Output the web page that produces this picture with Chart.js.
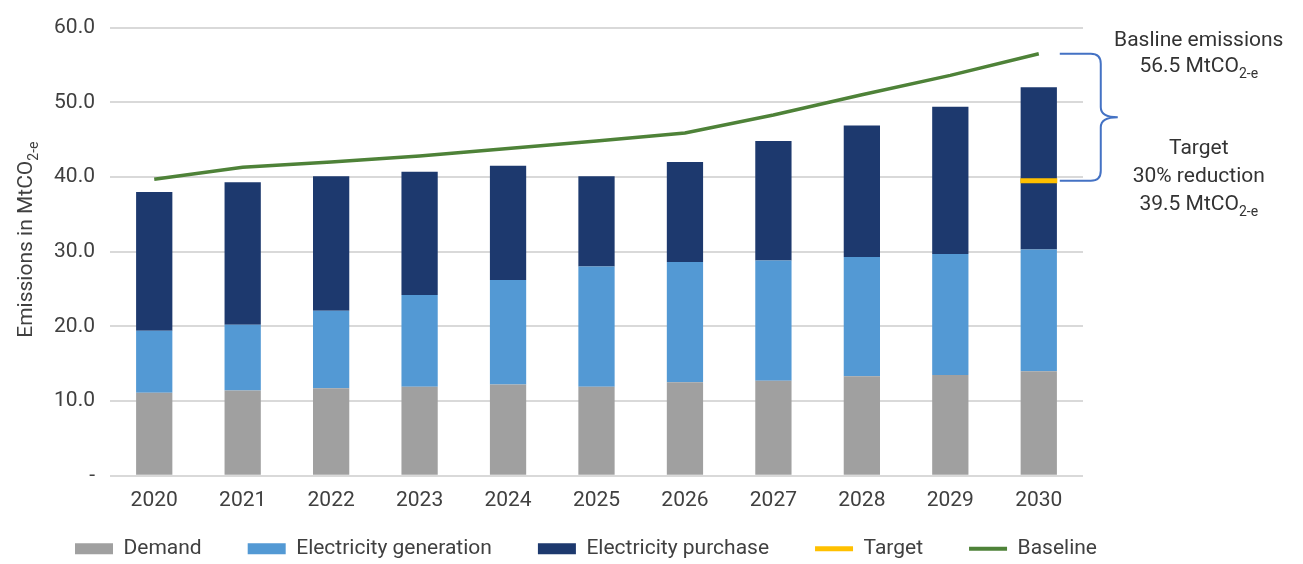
<!DOCTYPE html>
<html>
<head>
<meta charset="utf-8">
<title>Emissions</title>
<script src="https://cdn.jsdelivr.net/npm/chart.js@4.4.1/dist/chart.umd.min.js"></script>
<style>
  html, body { margin: 0; padding: 0; background: #fff; }
  #wrap { width: 1303px; height: 564px; position: relative; }
</style>
</head>
<body>
<div id="wrap"><canvas id="chart"></canvas></div>
<script>
// data (MtCO2-e)
const years = ['2020', '2021', '2022', '2023', '2024', '2025', '2026', '2027', '2028', '2029', '2030'];
const demand     = [11.1, 11.4, 11.7, 11.9, 12.2, 11.9, 12.5, 12.7, 13.3, 13.5, 14.0];
const generation = [8.3, 8.8, 10.4, 12.3, 14.0, 16.1, 16.1, 16.1, 16.0, 16.2, 16.3];
const purchase   = [18.6, 19.1, 18.0, 16.5, 15.3, 12.1, 13.4, 16.0, 17.6, 19.7, 21.7];
const target     = [null, null, null, null, null, null, null, null, null, null, 39.5];
const baseline   = [39.7, 41.3, 42.0, 42.8, 43.8, 44.8, 45.9, 48.3, 51.0, 53.6, 56.5];
const yTicks = [0, 10, 20, 30, 40, 50, 60];

const FONT = 'Roboto';
const TXT = '#404040';
const GRID = '#d9d9d9';
const LEG_PAD = 46;

// text with a subscript tail, e.g. MtCO + "2-e"
function subText(ctx, x, y, main, sub, align) {
    ctx.font = `21px ${FONT}`;
    const w1 = ctx.measureText(main).width;
    ctx.font = `14px ${FONT}`;
    const w2 = sub ? ctx.measureText(sub).width : 0;
    const x0 = align === 'center' ? x - (w1 + w2) / 2 : x;
    ctx.textAlign = 'left';
    ctx.textBaseline = 'alphabetic';
    ctx.font = `21px ${FONT}`;
    ctx.fillText(main, x0, y);
    if (sub) {
        ctx.font = `14px ${FONT}`;
        ctx.fillText(sub, x0 + w1, y + 6);
    }
}

// legend sits closer under the axis than its item padding would allow
const legendPos = {
    id: 'legendPos',
    afterLayout(chart) {
        const l = chart.legend;
        l.top = chart.chartArea.bottom + 62.5 - LEG_PAD;
        l.bottom = chart.height;
        l.height = l.bottom - l.top;
    }
};

// y title + brace/notes at the right
const notesPlugin = {
    id: 'notes',
    afterDraw(chart) {
        const ctx = chart.ctx;
        const ca = chart.chartArea;
        const ys = chart.scales.y;
        const xs = chart.scales.x;
        const last = years.length - 1;

        ctx.save();
        ctx.fillStyle = TXT;
        ctx.translate(32, (ca.top + ca.bottom) / 2 - 12);
        ctx.rotate(-Math.PI / 2);
        subText(ctx, 0, 0, 'Emissions in MtCO', '2-e', 'center');
        ctx.restore();

        const cx = xs.getPixelForValue(last);
        const yTop = ys.getPixelForValue(baseline[last]);
        const yBot = ys.getPixelForValue(target[last]);
        const yMid = (yTop + yBot) / 2;
        const x0 = cx + 21, x1 = cx + 62, x2 = cx + 79;

        ctx.save();
        ctx.strokeStyle = '#4472c4';
        ctx.lineWidth = 2;
        ctx.beginPath();
        ctx.moveTo(x0, yTop);
        ctx.lineTo(x1 - 10, yTop);
        ctx.quadraticCurveTo(x1, yTop, x1, yTop + 10);
        ctx.lineTo(x1, yMid - 10);
        ctx.quadraticCurveTo(x1, yMid, x2, yMid);
        ctx.quadraticCurveTo(x1, yMid, x1, yMid + 10);
        ctx.lineTo(x1, yBot - 10);
        ctx.quadraticCurveTo(x1, yBot, x1 - 10, yBot);
        ctx.lineTo(x0, yBot);
        ctx.stroke();
        ctx.restore();

        const tx = cx + 160;
        const pct = Math.round((1 - target[last] / baseline[last]) * 100);
        ctx.save();
        ctx.fillStyle = '#333333';
        subText(ctx, tx, yTop - 8, 'Basline emissions', '', 'center');
        subText(ctx, tx, yTop + 18, `${baseline[last].toFixed(1)} MtCO`, '2-e', 'center');
        subText(ctx, tx, yBot - 27, 'Target', '', 'center');
        subText(ctx, tx, yBot + 1, `${pct}% reduction`, '', 'center');
        subText(ctx, tx, yBot + 29, `${target[last].toFixed(1)} MtCO`, '2-e', 'center');
        ctx.restore();
    }
};

const ctx = document.getElementById('chart').getContext('2d');
const myChart = new Chart(ctx, {
    data: {
        labels: years,
        datasets: [
            { type: 'bar', label: 'Demand', data: demand, backgroundColor: '#a0a0a0', order: 1 },
            { type: 'bar', label: 'Electricity generation', data: generation, backgroundColor: '#5399d4', order: 1 },
            { type: 'bar', label: 'Electricity purchase', data: purchase, backgroundColor: '#1d396e', order: 1 },
            {
                type: 'line', label: 'Target', data: target, stack: 'target', order: 0,
                showLine: false, borderColor: '#ffc000', backgroundColor: '#ffc000',
                pointStyle: 'line', pointRadius: 18.5, pointBorderWidth: 5, pointBorderColor: '#ffc000'
            },
            {
                type: 'line', label: 'Baseline', data: baseline, stack: 'baseline', order: 0,
                borderColor: '#4e8238', backgroundColor: '#4e8238', borderWidth: 3.5, tension: 0,
                pointStyle: 'line', pointRadius: 0, pointBorderWidth: 4, pointBorderColor: '#4e8238'
            }
        ]
    },
    options: {
        responsive: true,
        maintainAspectRatio: false,
        animation: false,
        events: [],
        layout: { padding: { left: 29, right: 0, top: 25, bottom: 0 } },
        datasets: { bar: { categoryPercentage: 1, barPercentage: 0.41 } },
        scales: {
            x: {
                stacked: true,
                grid: { display: false },
                border: { display: false },
                ticks: { color: TXT, font: { family: FONT, size: 21 }, padding: 4 },
                afterFit: s => { s.height = 40; }
            },
            y: {
                stacked: true,
                min: 0, max: 60,
                afterBuildTicks: s => { s.ticks = yTicks.map(v => ({ value: v })); },
                ticks: {
                    color: TXT, font: { family: FONT, size: 21 }, padding: 15,
                    callback: v => v === 0 ? '-' : v.toFixed(1)
                },
                grid: { color: GRID, lineWidth: 2, drawTicks: false },
                border: { display: false },
                afterFit: s => { s.width = 81; }
            },
            y2: {
                position: 'right',
                display: true,
                grid: { display: false },
                border: { display: false },
                ticks: { display: false },
                afterFit: s => { s.width = 220; }
            }
        },
        plugins: {
            tooltip: { enabled: false },
            legend: {
                position: 'bottom',
                align: 'start',
                maxHeight: 48.3,
                labels: {
                    color: TXT,
                    font: { family: FONT, size: 21 },
                    usePointStyle: true,
                    pointStyleWidth: 38,
                    boxHeight: 11,
                    padding: LEG_PAD,
                    sort: (a, b) => a.datasetIndex - b.datasetIndex,
                    generateLabels: chart => Chart.defaults.plugins.legend.labels.generateLabels(chart).map(l => {
                        const ds = chart.data.datasets[l.datasetIndex];
                        l.pointStyle = ds.type === 'line' ? 'line' : 'rect';
                        l.rotation = 0;
                        return l;
                    })
                }
            }
        }
    },
    plugins: [legendPos, notesPlugin]
});
</script>
</body>
</html>
